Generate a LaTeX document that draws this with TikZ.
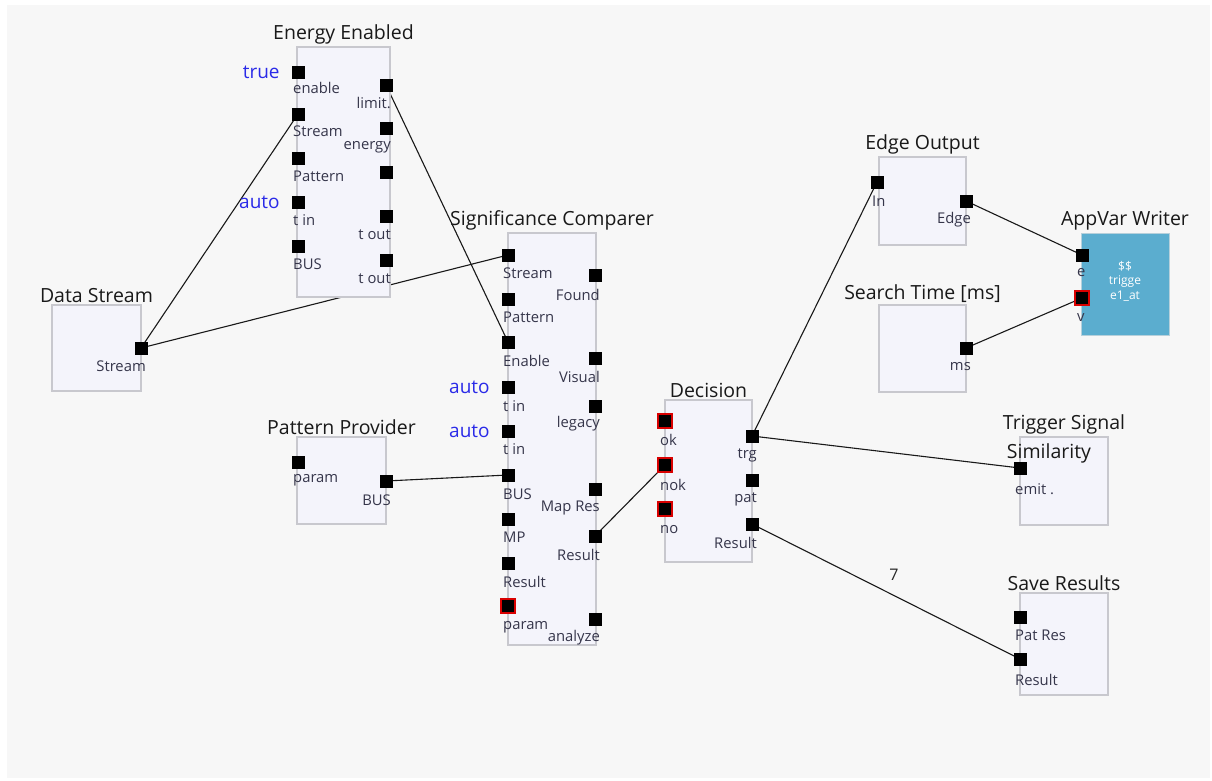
\documentclass[tikz,border=0pt]{standalone}
\usepackage{fontspec}
\setmainfont{Open Sans}
\usetikzlibrary{positioning}
\pgfdeclarelayer{bg}\pgfdeclarelayer{wires}
\pgfsetlayers{bg,wires,main}
\definecolor{bgfill}{HTML}{F7F7F7}
\definecolor{blkfill}{HTML}{F4F4FB}
\definecolor{blkline}{HTML}{C8C8CE}
\definecolor{valblue}{HTML}{2A2AE8}
\definecolor{labgray}{HTML}{35354A}
\definecolor{appblue}{HTML}{5BADCF}
% input pin: square on the left edge, name under it
\newcommand\lpin[5][port]{\node[#1] (#2) at (#3) {};
  \node[plab, anchor=west] (#2l) at ([xshift=-5pt, yshift=-#5pt]#2.center) {#4};}
% output pin: square on the right edge, name under it
\newcommand\rpin[5][port]{\node[#1] (#2) at (#3) {};
  \node[plab, anchor=east] (#2l) at ([xshift=5pt, yshift=-#5pt]#2.center) {#4};}

\begin{document}
\begin{tikzpicture}[x=1pt, y=-1pt,
  blk/.style={draw=blkline, fill=blkfill, line width=1.2pt},
  ttl/.style={font=\fontsize{19.5}{21}\selectfont, text=black!90, inner sep=1pt},
  plab/.style={font=\fontsize{14.8}{16}\selectfont, text=labgray, inner sep=0pt},
  val/.style={font=\fontsize{19}{21}\selectfont, text=valblue, inner sep=0pt},
  port/.style={draw=black, fill=black, minimum size=12pt, inner sep=0pt},
  bad/.style={port, draw=red!85!black, line width=2.2pt, minimum size=14pt},
  wire/.style={draw=black!90, line width=1.1pt}]
  \useasboundingbox (0,0) rectangle (1212,781);
  \begin{pgfonlayer}{bg}
    \fill[white] (0,0) rectangle (1212,781);
    \fill[bgfill] (7,5) rectangle (1210,778);
  \end{pgfonlayer}

  % blocks
  \node[blk, minimum width=93pt, minimum height=250pt] (energy) at (343.5,172) {};
  \node[ttl, above=1pt of energy] (energyT) {Energy Enabled};
  \node[blk, minimum width=89pt, minimum height=86pt] (data) at (96.5,348) {};
  \node[ttl, above=1pt of data] (dataT) {Data Stream};
  \node[blk, minimum width=88pt, minimum height=412pt] (sig) at (552,439) {};
  \node[ttl, above=1pt of sig] (sigT) {Significance Comparer};
  \node[blk, minimum width=89pt, minimum height=87pt] (pat) at (341.5,480.5) {};
  \node[ttl, above=1pt of pat] (patT) {Pattern Provider};
  \node[blk, minimum width=87pt, minimum height=162pt] (dec) at (708.5,481) {};
  \node[ttl, above=1pt of dec] (decT) {Decision};
  \node[blk, minimum width=87pt, minimum height=88pt] (edge) at (922.5,201) {};
  \node[ttl, above=1pt of edge] (edgeT) {Edge Output};
  \node[blk, minimum width=87pt, minimum height=87pt] (search) at (922.5,348.5) {};
  \node[ttl, above=1pt of search] (searchT) {Search Time [ms]};
  \node[draw=appblue!80!black!40, fill=appblue, line width=1pt, minimum width=88pt, minimum height=102pt] (app) at (1125,284) {};
  \node[ttl, above=1pt of app] (appT) {AppVar Writer};
  \node[font=\fontsize{12}{14.5}\selectfont, text=white, align=center, inner sep=0pt] (appTxt) at (1125,281) {\$\$\\trigge\\e1\_at};
  \node[blk, minimum width=88pt, minimum height=88pt] (trig) at (1064,481) {};
  \node[ttl, above=1pt of trig] (trigT) {Trigger Signal};
  \node[ttl] (trigSim) at (1049,453) {Similarity};
  \node[blk, minimum width=88pt, minimum height=102pt] (save) at (1064,644) {};
  \node[ttl, above=1pt of save] (saveT) {Save Results};

  % pins
  \lpin{en1}{298,72}{enable}{16}
  \lpin{en2}{298,114}{Stream}{17}
  \lpin{en3}{298,158}{Pattern}{18}
  \lpin{en4}{298,202}{t in}{18}
  \lpin{en5}{298,246}{BUS}{18}
  \rpin{eo1}{386,85}{limit.}{18}
  \rpin{eo2}{386,128}{energy}{19}
  \node[port] (eo3) at (386,172) {};
  \rpin{eo4}{386,216}{t out}{19}
  \rpin{eo5}{386,260}{t out}{19}
  \node[val, left=12pt of en1] (enVal1) {true};
  \node[val, left=12pt of en4] (enVal2) {auto};

  \rpin{ds1}{141,348}{Stream}{18}

  \lpin{sl1}{508,255}{Stream}{18}
  \lpin{sl2}{508,299}{Pattern}{18}
  \lpin{sl3}{508,342}{Enable}{19}
  \lpin{sl4}{508,387}{t in}{19}
  \lpin{sl5}{508,431}{t in}{18}
  \lpin{sl6}{508,475}{BUS}{19}
  \lpin{sl7}{508,519}{MP}{18}
  \lpin{sl8}{508,563}{Result}{19}
  \lpin[bad]{sl9}{508,606}{param}{21}
  \rpin{sr1}{595,275}{Found}{20}
  \rpin{sr2}{595,358}{Visual}{19}
  \rpin{sr3}{595,406}{legacy}{18}
  \rpin{sr4}{595,489}{Map Res}{19}
  \rpin{sr5}{595,536}{Result}{19}
  \rpin{sr6}{595,619}{analyze}{19}
  \node[val, left=12pt of sl4] (sigVal1) {auto};
  \node[val, left=12pt of sl5] (sigVal2) {auto};

  \lpin{pp1}{298,462}{param}{18}
  \rpin{pp2}{386,481}{BUS}{19}

  \lpin[bad]{dl1}{665,421}{ok}{19}
  \lpin[bad]{dl2}{665,465}{nok}{20}
  \lpin[bad]{dl3}{665,509}{no}{21}
  \rpin{dr1}{752,436}{trg}{19}
  \rpin{dr2}{752,480}{pat}{19}
  \rpin{dr3}{752,524}{Result}{19}

  \lpin{eg1}{877,182}{In}{19}
  \rpin{eg2}{966,201}{Edge}{19}
  \rpin{st1}{966,348}{ms}{19}
  \lpin{av1}{1082,255}{e}{18}
  \lpin[bad]{av2}{1082,298}{v}{20}
  \lpin{tg1}{1020,468}{emit .}{21}
  \lpin{sv1}{1020,617}{Pat Res}{18}
  \lpin{sv2}{1020,659}{Result}{21}

  % connections, kept under the blocks
  \begin{pgfonlayer}{wires}
    \draw[wire] (ds1.center) -- (en2.center);
    \draw[wire] (ds1.center) -- (sl1.center);
    \draw[wire] (eo1.center) -- (sl3.center);
    \draw[wire] (pp2.center) -- (sl6.center);
    \draw[wire] (sr5.center) -- (dl2.center);
    \draw[wire] (dr1.center) -- (eg1.center);
    \draw[wire] (dr1.center) -- (tg1.center);
    \draw[wire] (dr3.center) -- node[pos=0.53, above=15pt, font=\fontsize{16}{18}\selectfont, text=black!85, inner sep=0pt] (cnt) {7} (sv2.center);
    \draw[wire] (eg2.center) -- (av1.center);
    \draw[wire] (st1.center) -- (av2.center);
  \end{pgfonlayer}
\end{tikzpicture}
\end{document}
